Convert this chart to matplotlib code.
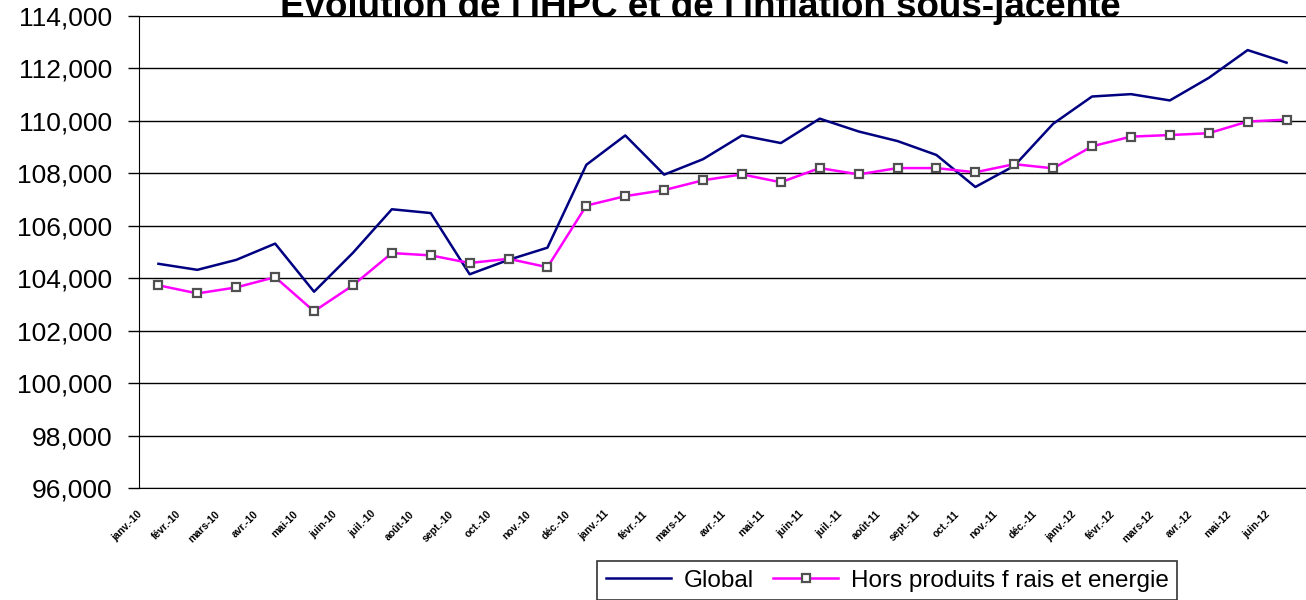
import matplotlib
matplotlib.use("Agg")
import matplotlib.pyplot as plt
import matplotlib.transforms as mtransforms
from matplotlib.ticker import FuncFormatter, MultipleLocator

plt.rcParams['font.family'] = ['Liberation Sans', 'DejaVu Sans']

months = ["janv.", "févr.", "mars", "avr.", "mai", "juin",
          "juil.", "août", "sept.", "oct.", "nov.", "déc."]
labels = ([f"{m}-10" for m in months] + [f"{m}-11" for m in months]
          + [f"{m}-12" for m in months[:6]])

global_vals = [104550, 104320, 104700, 105320, 103485, 104970, 106630, 106485,
               104150, 104700, 105165, 108325, 109445, 107950, 108540, 109445,
               109155, 110085, 109596, 109230, 108700, 107480, 108285, 109890,
               110930, 111020, 110780, 111640, 112700, 112220]
core_vals = [103730, 103420, 103650, 104040, 102740, 103730, 104960, 104870,
             104580, 104740, 104420, 106770, 107130, 107360, 107735, 107960,
             107660, 108200, 107960, 108200, 108200, 108040, 108350, 108190,
             109030, 109400, 109460, 109530, 109975, 110050]

title = "Evolution de l'IHPC et de l'inflation sous-jacente"
series_names = ["Global", "Hors produits f rais et energie"]

fig = plt.figure(figsize=(13.06, 6.0), dpi=100)
ax = fig.add_axes([139/1306, (600-488)/600, (1306-139)/1306, (488-16)/600])

x = list(range(len(labels)))
ax.plot(x, global_vals, color='#000080', lw=1.8, label=series_names[0])
ax.plot(x, core_vals, color='#FF00FF', lw=1.8, marker='s', markersize=6,
        markerfacecolor='white', markeredgecolor='#505050', markeredgewidth=1.6,
        label=series_names[1])

ax.set_xlim(-0.5, len(labels) - 0.5)
ax.set_ylim(96000, 114000)
ax.yaxis.set_major_locator(MultipleLocator(2000))
ax.yaxis.set_major_formatter(FuncFormatter(lambda v, p: f"{int(v):,}"))
ax.grid(axis='y', color='black', lw=1.0)
ax.set_axisbelow(True)
for s in ['top', 'right']:
    ax.spines[s].set_visible(False)
ax.spines['left'].set_color('black')
ax.spines['bottom'].set_color('black')
ax.tick_params(axis='y', length=8, width=1, labelsize=19, pad=11, colors='black')
ax.tick_params(axis='x', length=0, pad=14)

ax.set_xticks(x)
ax.set_xticklabels(labels, rotation=45, ha='right', va='center',
                   rotation_mode='anchor', fontsize=7.5, fontweight='bold')
offset = mtransforms.ScaledTranslation(-18/100, -5/100, fig.dpi_scale_trans)
for lab in ax.get_xticklabels():
    lab.set_transform(lab.get_transform() + offset)

fig.text(700/1306, 1.0 - 17/600, title, ha='center', va='baseline',
         fontsize=26.5, fontweight='bold')

leg = ax.legend(loc='upper left', bbox_to_anchor=(597/1306, (600-561)/600),
                bbox_transform=fig.transFigure, ncol=2, fontsize=17.5,
                frameon=True, fancybox=False, edgecolor='black',
                handlelength=2.7, columnspacing=0.8, borderpad=0.35,
                handletextpad=0.5, borderaxespad=0)
leg.get_frame().set_linewidth(1.2)

fig.savefig("out.png", dpi=100)
